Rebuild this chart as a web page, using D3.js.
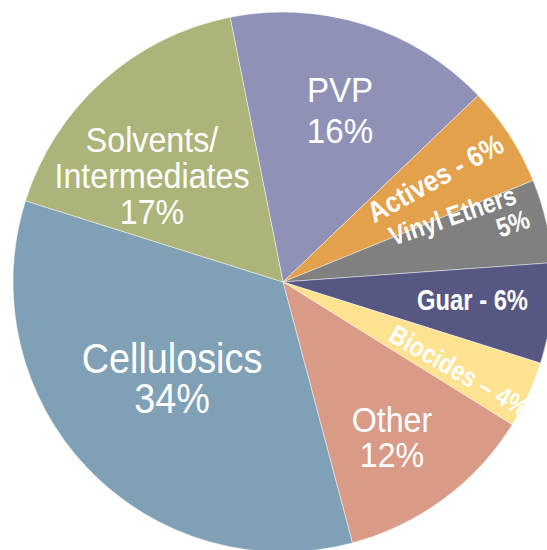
<!DOCTYPE html>
<html>
<head>
<meta charset="utf-8">
<script src="https://cdn.jsdelivr.net/npm/d3@7"></script>
<style>
  html, body { margin: 0; padding: 0; background: #ffffff; }
  svg { display: block; }
  text { font-family: "Liberation Sans Narrow", "Arial Narrow", "Liberation Sans", Arial, sans-serif; fill: #ffffff; }
</style>
</head>
<body>
<svg id="chart" width="547" height="550"></svg>
<script>
// Market share by product segment (percent), clockwise from PVP
const categories = ["PVP", "Actives", "Vinyl Ethers", "Guar", "Biocides", "Other", "Cellulosics", "Solvents/Intermediates"];
const shares = [16, 6, 5, 6, 4, 12, 34, 17];
const colors = ["#8f92b6", "#e4a14c", "#808080", "#575784", "#fde290", "#d99a88", "#7fa0b5", "#adb47a"];

// Label text for each slice (lines)
const labelLines = [
  ["PVP", "16%"],
  ["Actives - 6%"],
  ["Vinyl Ethers", "5%"],
  ["Guar - 6%"],
  ["Biocides \u2013 4%"],
  ["Other", "12%"],
  ["Cellulosics", "34%"],
  ["Solvents/", "Intermediates", "17%"]
];

// Label placement: baseline anchor of the first line, rotation, condensed type style
const labelLayout = [
  { x: 340, y: 102, rot: 0,   anchor: "middle", size: 36, weight: 400, lh: 41, sx: 0.92 },
  { x: 440, y: 187, rot: -29, anchor: "middle", size: 29, weight: 700, lh: 0,  sx: 0.88 },
  { x: 518, y: 203, rot: -19, anchor: "end",    size: 27, weight: 700, lh: 27, sx: 0.85, shift: 6 },
  { x: 528, y: 310, rot: 0,   anchor: "end",    size: 29, weight: 700, lh: 0,  sx: 0.82 },
  { x: 387, y: 340, rot: 30,  anchor: "start",  size: 27, weight: 700, lh: 0,  sx: 0.86 },
  { x: 392, y: 432, rot: 0,   anchor: "middle", size: 35, weight: 400, lh: 35, sx: 0.92 },
  { x: 172, y: 373, rot: 0,   anchor: "middle", size: 42, weight: 400, lh: 40, sx: 0.9 },
  { x: 152, y: 152, rot: 0,   anchor: "middle", size: 35, weight: 400, lh: 36, sx: 0.92 }
];

const svg = d3.select("#chart");
const cx = 283, cy = 282, radius = 270;
const startAngle = -11.3 * Math.PI / 180;

const pie = d3.pie()
  .sort(null)
  .value(d => d)
  .startAngle(startAngle)
  .endAngle(startAngle + 2 * Math.PI);

const arc = d3.arc().innerRadius(0).outerRadius(radius);

const g = svg.append("g").attr("transform", `translate(${cx},${cy})`);

g.selectAll("path.slice")
  .data(pie(shares))
  .join("path")
  .attr("class", "slice")
  .attr("d", arc)
  .attr("fill", (d, i) => colors[i])
  .attr("stroke", "rgba(255,255,255,0.55)")
  .attr("stroke-width", 0.8);

// Slice labels
const labels = svg.append("g");
labelLayout.forEach((L, i) => {
  const t = labels.append("text")
    .attr("transform", `translate(${L.x},${L.y}) rotate(${L.rot}) scale(${L.sx},1)`)
    .attr("text-anchor", L.anchor)
    .attr("font-size", L.size)
    .attr("font-weight", L.weight);
  labelLines[i].forEach((line, j) => {
    t.append("tspan")
      .attr("x", j > 0 && L.shift ? L.shift : 0)
      .attr("y", j * L.lh)
      .text(line);
  });
});
</script>
</body>
</html>
